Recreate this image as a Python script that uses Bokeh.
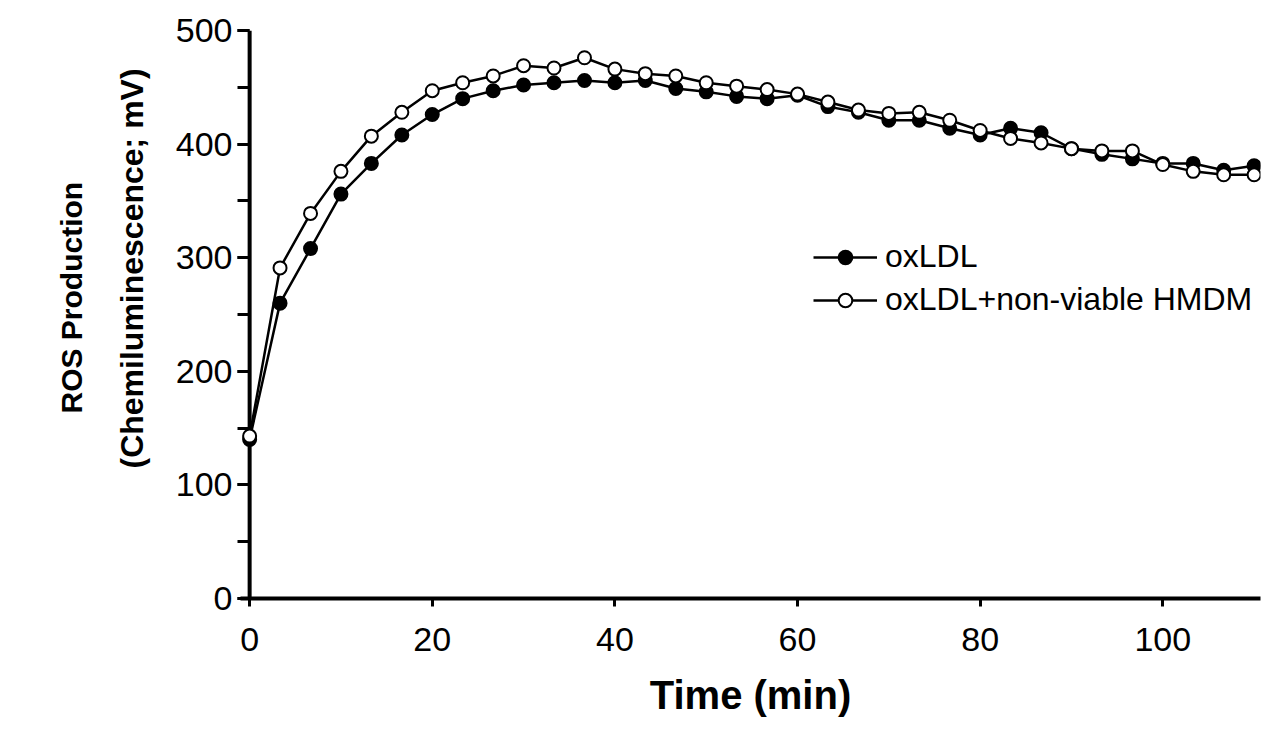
from bokeh.plotting import figure
from bokeh.models import Range1d, SingleIntervalTicker, Title, Span
from bokeh.embed import file_html
from bokeh.resources import INLINE

# Time points (min)
time_min = [0, 3.33, 6.67, 10, 13.33, 16.67, 20, 23.33, 26.67, 30, 33.33, 36.67,
            40, 43.33, 46.67, 50, 53.33, 56.67, 60, 63.33, 66.67, 70, 73.33, 76.67,
            80, 83.33, 86.67, 90, 93.33, 96.67, 100, 103.33, 106.67, 110]

# ROS production (mV)
oxldl = [140, 260, 308, 356, 383, 408, 426, 440, 447, 452, 454, 456,
         454, 456, 449, 446, 442, 440, 443, 433, 428, 421, 421, 414,
         408, 414, 410, 396, 391, 387, 383, 383, 377, 381]
oxldl_nonviable = [143, 291, 339, 376, 407, 428, 447, 454, 460, 469, 467, 476,
                   466, 462, 460, 454, 451, 448, 444, 437, 430, 427, 428, 421,
                   412, 405, 401, 396, 394, 394, 382, 376, 373, 373]

series_names = ["oxLDL", "oxLDL+non-viable HMDM"]
y_title_lines = ["ROS Production", "(Chemiluminescence; mV)"]
x_title = "Time (min)"
x_ticks_interval = 20
y_ticks_interval = 100

FONT = "Liberation Sans"

p = figure(width=1262, height=719,
           x_range=Range1d(-1, 110.7), y_range=Range1d(0, 500),
           output_backend="svg", toolbar_location=None,
           min_border_left=240, min_border_right=2,
           min_border_top=30, min_border_bottom=119)

p.outline_line_color = None
p.xgrid.visible = False
p.ygrid.visible = False
p.background_fill_color = "white"

# y-axis line drawn at x = 0
p.add_layout(Span(location=0, dimension="height", line_color="black",
                  line_width=4, level="underlay"))

# Series
p.line(time_min, oxldl, line_color="black", line_width=2.5, legend_label=series_names[0])
p.scatter(time_min, oxldl, size=13, fill_color="black", line_color="black",
          line_width=2, legend_label=series_names[0])
p.line(time_min, oxldl_nonviable, line_color="black", line_width=2.5, legend_label=series_names[1])
p.scatter(time_min, oxldl_nonviable, size=13, fill_color="white", line_color="black",
          line_width=2, legend_label=series_names[1])

# X axis
xa = p.xaxis[0]
xa.ticker = SingleIntervalTicker(interval=x_ticks_interval, num_minor_ticks=0)
xa.axis_line_width = 4
xa.axis_line_color = "black"
xa.major_tick_line_width = 3
xa.major_tick_in = 0
xa.major_tick_out = 8
xa.minor_tick_line_color = None
xa.major_label_text_font = FONT
xa.major_label_text_font_size = "34px"
xa.major_label_text_color = "black"
xa.major_label_standoff = 21
xa.axis_label = x_title
xa.axis_label_text_font = FONT
xa.axis_label_text_font_size = "40px"
xa.axis_label_text_font_style = "bold"
xa.axis_label_text_color = "black"
xa.axis_label_standoff = 19

# Y axis (line is the Span above; ticks reach it from the frame edge)
ya = p.yaxis[0]
ya.ticker = SingleIntervalTicker(interval=y_ticks_interval, num_minor_ticks=2)
ya.axis_line_color = None
ya.major_tick_line_width = 3
ya.major_tick_in = 9
ya.major_tick_out = 3
ya.minor_tick_line_width = 3
ya.minor_tick_line_color = "black"
ya.minor_tick_in = 9
ya.minor_tick_out = 3
ya.major_label_text_font = FONT
ya.major_label_text_font_size = "34px"
ya.major_label_text_color = "black"
ya.major_label_standoff = 5

t2 = Title(text=y_title_lines[1], align="left", offset=130, text_font=FONT,
           text_font_size="32px", text_font_style="bold", text_color="black",
           standoff=46)
p.add_layout(t2, "left")
t1 = Title(text=y_title_lines[0], align="left", offset=185, text_font=FONT,
           text_font_size="30px", text_font_style="bold", text_color="black",
           standoff=2)
p.add_layout(t1, "left")

# Legend
lg = p.legend[0]
lg.location = (573, 280)
lg.border_line_color = None
lg.background_fill_alpha = 0
lg.padding = 0
lg.margin = 0
lg.glyph_width = 64
lg.glyph_height = 34
lg.label_height = 34
lg.spacing = 6
lg.label_standoff = 8
lg.label_text_font = FONT
lg.label_text_font_size = "32px"
lg.label_text_color = "black"

open("out.html", "w").write(file_html(p, INLINE))
